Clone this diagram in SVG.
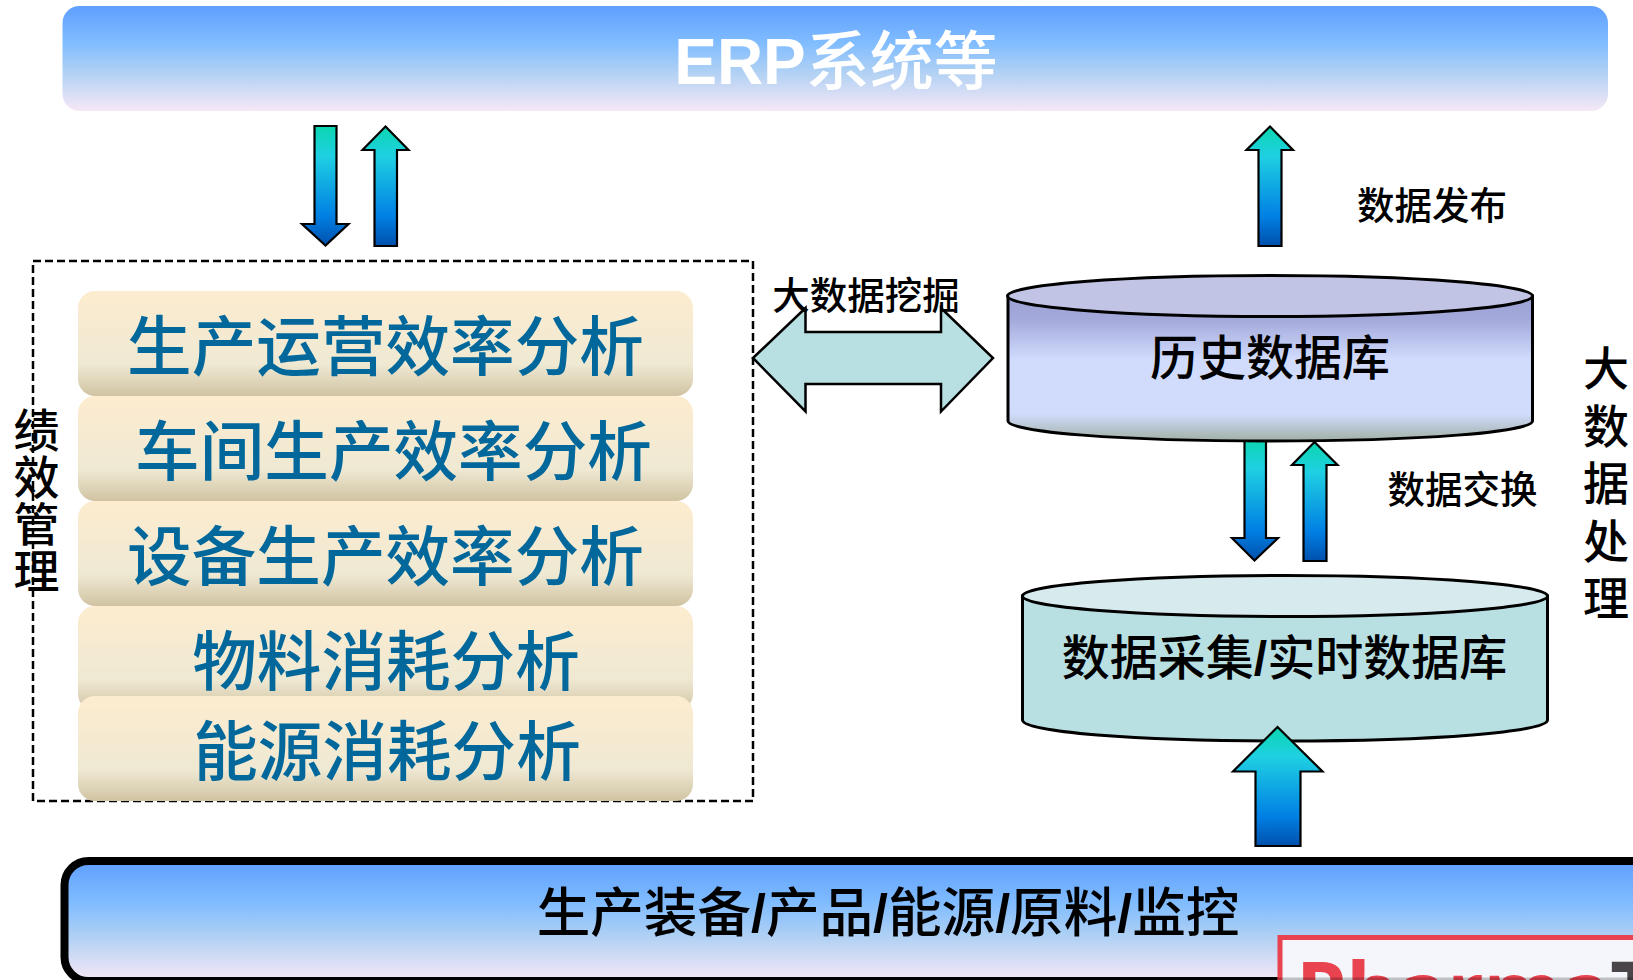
<svg xmlns="http://www.w3.org/2000/svg" width="1633" height="980" viewBox="0 0 1633 980">
<style>
text{font-family:"Noto Sans CJK SC","Liberation Sans",sans-serif;fill:#000;font-weight:500}
.bar{fill:url(#barG)}
.barT{font-size:64.6px;fill:#02689b;text-anchor:middle}
.lbl{font-size:37.5px}
.v{font-size:46px;text-anchor:middle}
.arr{fill:url(#arrG);stroke:#000;stroke-width:2.2;stroke-linejoin:miter}
.sl{font-family:"Liberation Sans",sans-serif;font-weight:bold}
.cyl{stroke:#000;stroke-width:3}
</style>
<defs>
<linearGradient id="blueG" x1="0" y1="0" x2="0" y2="1"><stop offset="0" stop-color="#5f9ffe"/><stop offset=".35" stop-color="#80bcff"/><stop offset=".62" stop-color="#aed0f4"/><stop offset="1" stop-color="#f6e8f6"/></linearGradient>
<linearGradient id="barG" x1="0" y1="0" x2="0" y2="1"><stop offset="0" stop-color="#fdeccf"/><stop offset=".7" stop-color="#efe9d3"/><stop offset="1" stop-color="#d0c3a2"/></linearGradient>
<linearGradient id="arrG" x1="0" y1="0" x2="0" y2="1"><stop offset="0" stop-color="#0bd6b0"/><stop offset=".25" stop-color="#1fd0e2"/><stop offset=".75" stop-color="#0080e4"/><stop offset="1" stop-color="#0050ac"/></linearGradient>
<linearGradient id="histG" x1="0" y1="0" x2="0" y2="1"><stop offset="0" stop-color="#9ba1d4"/><stop offset=".16" stop-color="#a3a9da"/><stop offset=".44" stop-color="#d1dcfd"/><stop offset=".81" stop-color="#d1dcfd"/><stop offset="1" stop-color="#a1b0a6"/></linearGradient>
</defs>

<g id="erp"><rect x="62.5" y="6" width="1545.5" height="105" rx="17" fill="url(#blueG)"/>
<text x="836" y="84" font-size="64" text-anchor="middle" style="fill:#fff"><tspan class="sl" style="fill:#fff">ERP</tspan>系统等</text></g>

<g id="performance-frame"><rect x="33" y="261" width="720" height="540" fill="none" stroke="#000" stroke-width="2.5" stroke-dasharray="8 4"/></g>

<g id="bar1"><rect class="bar" x="78" y="291" width="615" height="105" rx="17"/><text class="barT" x="385.5" y="370">生产运营效率分析</text></g>
<g id="bar2"><rect class="bar" x="78" y="396" width="615" height="105" rx="17"/><text class="barT" x="393.5" y="475">车间生产效率分析</text></g>
<g id="bar3"><rect class="bar" x="78" y="501" width="615" height="105" rx="17"/><text class="barT" x="385.5" y="580">设备生产效率分析</text></g>
<g id="bar4"><rect class="bar" x="78" y="606" width="615" height="105" rx="17"/><text class="barT" x="386" y="685">物料消耗分析</text></g>
<g id="bar5"><rect class="bar" x="78" y="696" width="615" height="105" rx="17"/><text class="barT" x="387" y="775">能源消耗分析</text></g>

<g id="label-performance"><text class="v"><tspan x="36.5" y="447">绩</tspan><tspan x="36.5" y="494">效</tspan><tspan x="36.5" y="541">管</tspan><tspan x="36.5" y="588">理</tspan></text></g>

<g id="connectors">
<polygon class="arr" points="314.5,126 336.5,126 336.5,224 348.5,224 325.5,245.5 302,224 314.5,224"/>
<polygon class="arr" points="385.5,126.5 408.5,150 397,150 397,246 374.5,246 374.5,150 362.5,150"/>
<polygon class="arr" points="1270,126.5 1293,150 1281.5,150 1281.5,246 1258.5,246 1258.5,150 1246.5,150"/>
<polygon class="arr" points="1244.5,438 1266,438 1266,538 1278,538 1254.5,560.5 1232,538 1244.5,538"/>
<polygon class="arr" points="1314.5,442 1337.5,465 1326.5,465 1326.5,561 1303.5,561 1303.5,465 1292,465"/>
<polygon points="753,358 805.5,308 805.5,332 941,332 941,308 993,358 941,411.5 941,384 805.5,384 805.5,411.5" fill="#b8dfe2" stroke="#000" stroke-width="2.5"/>
</g>

<g id="history-db"><path class="cyl" d="M1008 296V421C1008 432 1120 441 1270 441S1532.5 432 1532.5 421V296Z" fill="url(#histG)"/>
<ellipse class="cyl" cx="1270" cy="296" rx="262.5" ry="20.5" fill="#c1c4e4"/>
<text x="1270" y="375" font-size="48" text-anchor="middle">历史数据库</text></g>

<g id="realtime-db"><path class="cyl" d="M1022.5 596V720C1022.5 732 1135 741 1285 741S1547.5 732 1547.5 720V596Z" fill="#b8dfe2"/>
<ellipse class="cyl" cx="1285" cy="596" rx="262.5" ry="20.5" fill="#d7ebee"/>
<text x="1284.5" y="675" font-size="48" text-anchor="middle">数据采集<tspan class="sl">/</tspan>实时数据库</text></g>

<g id="labels">
<text class="lbl" x="866" y="309" text-anchor="middle">大数据挖掘</text>
<text class="lbl" x="1432" y="219" text-anchor="middle">数据发布</text>
<text class="lbl" x="1462.5" y="503" text-anchor="middle">数据交换</text>
<text class="v"><tspan x="1606" y="385">大</tspan><tspan x="1606" y="442.5">数</tspan><tspan x="1606" y="500">据</tspan><tspan x="1606" y="557.5">处</tspan><tspan x="1606" y="615">理</tspan></text>
</g>

<g id="source-arrow"><polygon class="arr" points="1277.5,727 1322.5,771.5 1300.5,771.5 1300.5,846 1255.5,846 1255.5,771.5 1233,771.5" stroke-width="2"/></g>

<g id="equipment"><rect x="64.5" y="861" width="1700" height="120" rx="24" fill="url(#blueG)" stroke="#000" stroke-width="8"/>
<text x="888" y="932" font-size="53.6" text-anchor="middle">生产装备<tspan class="sl">/</tspan>产品<tspan class="sl">/</tspan>能源<tspan class="sl">/</tspan>原料<tspan class="sl">/</tspan>监控</text></g>

<g id="watermark"><rect x="1280" y="937.5" width="400" height="80" fill="#f5f6fb" stroke="#e8434f" stroke-width="5"/>
<text x="1296" y="1020" font-size="80" font-weight="bold" style="font-family:'Open Sans',sans-serif;fill:#e8434f;font-weight:bold">Pharma<tspan style="fill:#4a4548">T</tspan></text>
<rect x="1278" y="977.5" width="355" height="2.5" fill="#000" opacity=".22"/></g>
</svg>
